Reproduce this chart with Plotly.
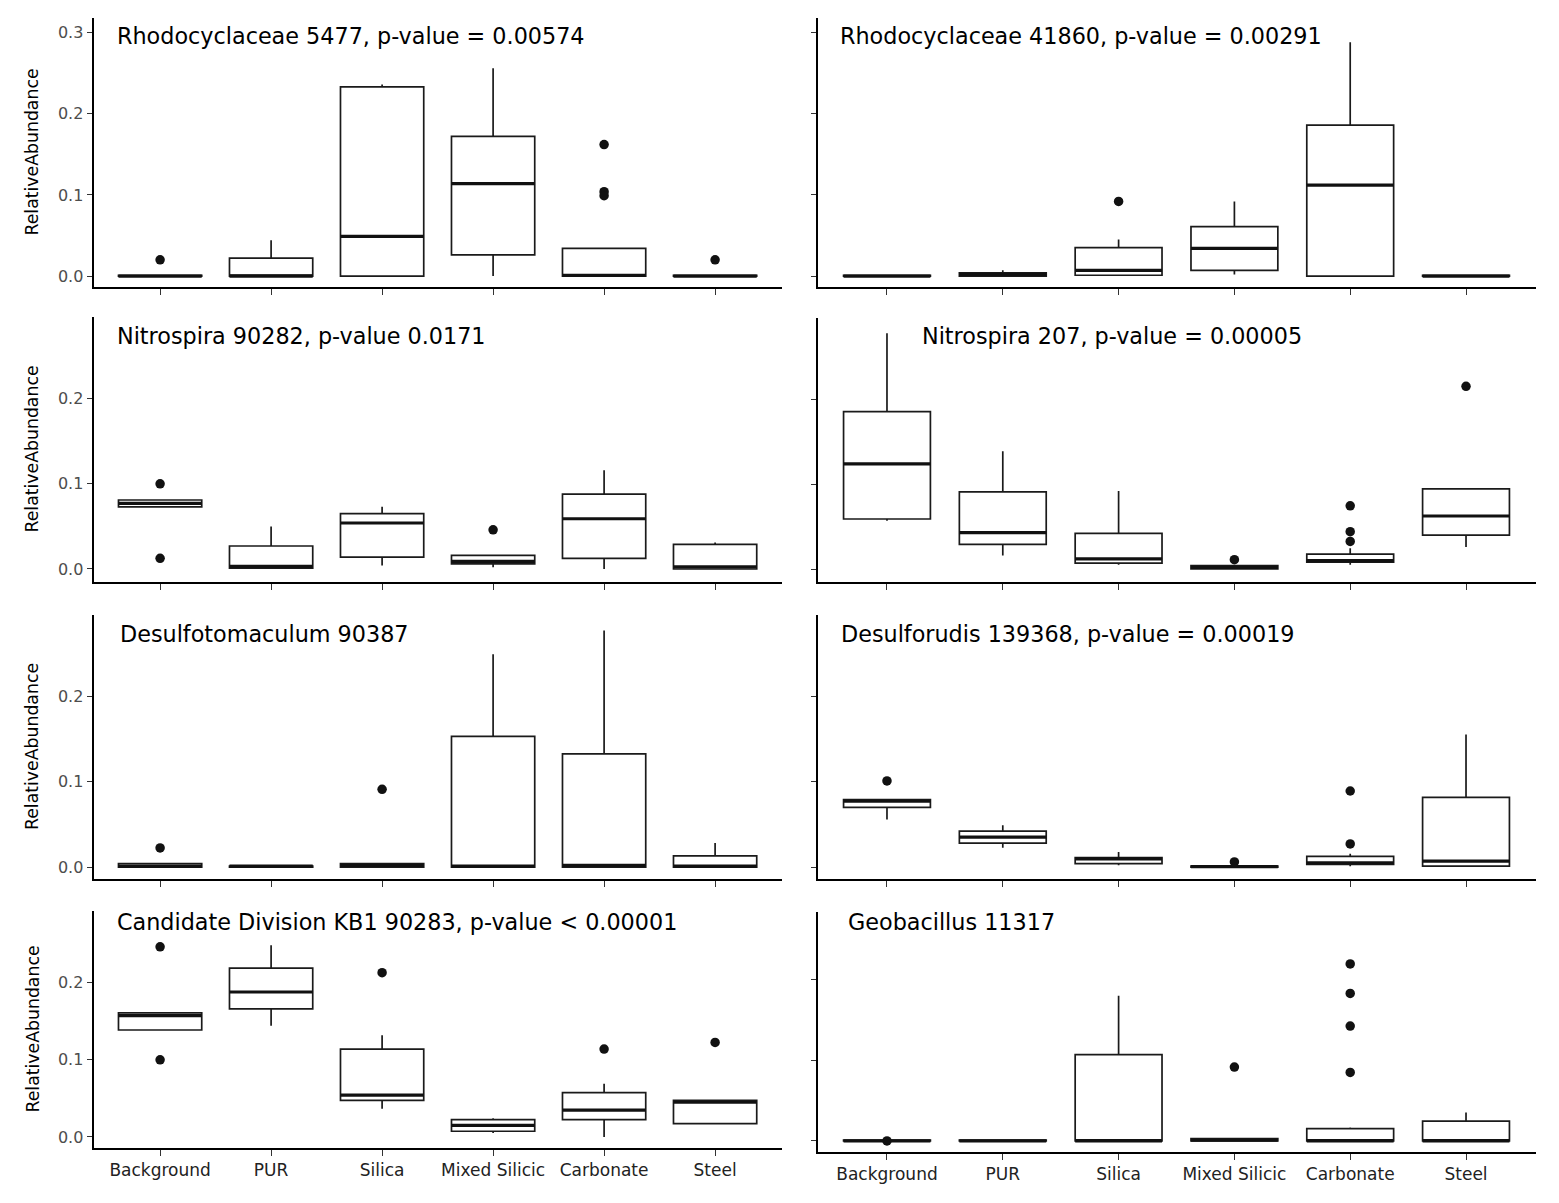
import plotly.graph_objects as go

categories = ["Background", "PUR", "Silica", "Mixed Silicic", "Carbonate", "Steel"]

# Panel A: Rhodocyclaceae 5477
a_lower = [0, 0, 0, 0, 0, 0]
a_q1 = [0, 0, 0, 0.026, 0, 0]
a_median = [0, 0, 0.049, 0.114, 0.001, 0]
a_q3 = [0.001, 0.022, 0.233, 0.172, 0.034, 0.001]
a_upper = [0.001, 0.044, 0.236, 0.256, 0.034, 0.001]
a_out_x = ["Background", "Carbonate", "Carbonate", "Carbonate", "Steel"]
a_out_y = [0.020, 0.162, 0.104, 0.099, 0.020]

# Panel B: Rhodocyclaceae 41860
b_lower = [0, 0, 0.001, 0.002, 0, 0]
b_q1 = [0, 0, 0.001, 0.007, 0, 0]
b_median = [0, 0.002, 0.007, 0.034, 0.112, 0]
b_q3 = [0.001, 0.004, 0.035, 0.061, 0.186, 0.001]
b_upper = [0.001, 0.007, 0.045, 0.092, 0.288, 0.001]
b_out_x = ["Silica"]
b_out_y = [0.092]

# Panel C: Nitrospira 90282
c_lower = [0.073, 0, 0.004, 0.002, 0, 0]
c_q1 = [0.073, 0.001, 0.014, 0.006, 0.0125, 0]
c_median = [0.077, 0.003, 0.054, 0.009, 0.059, 0.0025]
c_q3 = [0.081, 0.027, 0.065, 0.016, 0.088, 0.029]
c_upper = [0.081, 0.050, 0.073, 0.017, 0.116, 0.031]
c_out_x = ["Background", "Background", "Mixed Silicic"]
c_out_y = [0.100, 0.0125, 0.046]

# Panel D: Nitrospira 207
d_lower = [0.057, 0.016, 0.005, 0, 0.005, 0.026]
d_q1 = [0.059, 0.029, 0.007, 0, 0.008, 0.040]
d_median = [0.124, 0.043, 0.012, 0.002, 0.010, 0.0625]
d_q3 = [0.1855, 0.091, 0.042, 0.004, 0.0175, 0.0945]
d_upper = [0.278, 0.139, 0.092, 0.004, 0.0245, 0.0945]
d_out_x = ["Mixed Silicic", "Carbonate", "Carbonate", "Carbonate", "Steel"]
d_out_y = [0.011, 0.0325, 0.044, 0.0745, 0.2155]

# Panel E: Desulfotomaculum 90387
e_lower = [0, 0, 0, 0, 0, 0]
e_q1 = [0, 0, 0, 0, 0, 0]
e_median = [0.001, 0.001, 0.002, 0.001, 0.002, 0.001]
e_q3 = [0.004, 0.001, 0.004, 0.153, 0.1325, 0.013]
e_upper = [0.004, 0.001, 0.004, 0.249, 0.277, 0.028]
e_out_x = ["Background", "Silica"]
e_out_y = [0.0224, 0.091]

# Panel F: Desulforudis 139368
f_lower = [0.0557, 0.0227, 0.002, 0, 0.001, 0.001]
f_q1 = [0.0698, 0.028, 0.004, 0, 0.003, 0.001]
f_median = [0.077, 0.035, 0.0095, 0.0005, 0.005, 0.007]
f_q3 = [0.079, 0.042, 0.011, 0.0012, 0.0125, 0.0815]
f_upper = [0.079, 0.049, 0.0176, 0.0012, 0.0157, 0.155]
f_out_x = ["Background", "Mixed Silicic", "Carbonate", "Carbonate"]
f_out_y = [0.1008, 0.006, 0.027, 0.089]

# Panel G: Candidate Division KB1 90283
g_lower = [0.1387, 0.1443, 0.0365, 0.005, 0, 0.0174]
g_q1 = [0.1387, 0.166, 0.0474, 0.0074, 0.0226, 0.0174]
g_median = [0.1574, 0.188, 0.0543, 0.015, 0.0348, 0.045]
g_q3 = [0.161, 0.219, 0.114, 0.0226, 0.0574, 0.0474]
g_upper = [0.161, 0.2487, 0.132, 0.0243, 0.069, 0.0474]
g_out_x = ["Background", "Background", "Silica", "Carbonate", "Steel"]
g_out_y = [0.2465, 0.100, 0.213, 0.114, 0.1226]

# Panel H: Geobacillus 11317
h_lower = [0, 0, 0, 0, 0, 0]
h_q1 = [0, 0, 0, 0, 0, 0]
h_median = [0, 0, 0, 0.001, 0, 0]
h_q3 = [0.001, 0.001, 0.107, 0.003, 0.0154, 0.0246]
h_upper = [0.001, 0.001, 0.180, 0.003, 0.0167, 0.0354]
h_out_x = ["Background", "Mixed Silicic", "Carbonate", "Carbonate", "Carbonate", "Carbonate"]
h_out_y = [0.0, 0.0917, 0.085, 0.1425, 0.183, 0.2196]

titles = [
    "Rhodocyclaceae 5477, p-value = 0.00574",
    "Rhodocyclaceae 41860, p-value = 0.00291",
    "Nitrospira 90282, p-value 0.0171",
    "Nitrospira 207, p-value = 0.00005",
    "Desulfotomaculum 90387",
    "Desulforudis 139368, p-value = 0.00019",
    "Candidate Division KB1 90283, p-value < 0.00001",
    "Geobacillus 11317",
]

OFF = 8  # page body margin of the html page
W, H = 1559 - 2 * OFF, 1203 - 2 * OFF
FONT = "DejaVu Sans"
LINE = "#1a1a1a"

panels = [
    (a_lower, a_q1, a_median, a_q3, a_upper, a_out_x, a_out_y),
    (b_lower, b_q1, b_median, b_q3, b_upper, b_out_x, b_out_y),
    (c_lower, c_q1, c_median, c_q3, c_upper, c_out_x, c_out_y),
    (d_lower, d_q1, d_median, d_q3, d_upper, d_out_x, d_out_y),
    (e_lower, e_q1, e_median, e_q3, e_upper, e_out_x, e_out_y),
    (f_lower, f_q1, f_median, f_q3, f_upper, f_out_x, f_out_y),
    (g_lower, g_q1, g_median, g_q3, g_upper, g_out_x, g_out_y),
    (h_lower, h_q1, h_median, h_q3, h_upper, h_out_x, h_out_y),
]

# layout geometry (window pixels)
col_x = [(93.5, 781.7), (817.5, 1535.5)]
geo = [
    (18, 287, [-0.0135, 0.318]), (18, 287, [-0.0135, 0.318]),
    (317, 582, [-0.0153, 0.296]), (318, 582, [-0.0153, 0.296]),
    (615, 879, [-0.014, 0.295]), (615, 879, [-0.014, 0.295]),
    (911, 1148, [-0.0143, 0.293]), (912, 1152, [-0.0137, 0.284]),
]
title_pos = [(115, 36), (838, 36), (115, 336), (920, 336),
             (118, 634), (839, 634), (115, 922), (846, 922)]


def px(v):
    return (v - OFF) / W


def py(v):
    return 1 - (v - OFF) / H


fig = go.Figure()
layout = dict(
    width=W, height=H, margin=dict(l=0, r=0, t=0, b=0),
    paper_bgcolor="white", plot_bgcolor="white", showlegend=False,
    font=dict(family=FONT, color="black"),
)
annotations = []
pos = list(range(len(categories)))
half = 0.375

for k, (lo, q1, med, q3, hi, ox, oy) in enumerate(panels):
    row, col = divmod(k, 2)
    n = k + 1
    xa = "x" if n == 1 else f"x{n}"
    ya = "y" if n == 1 else f"y{n}"
    top, bot, yr = geo[k]
    x0, x1 = col_x[col]

    fig.add_trace(go.Box(
        x=pos, q1=q1, median=med, q3=q3, lowerfence=lo, upperfence=hi,
        width=0.75, whiskerwidth=0, boxpoints=False,
        fillcolor="white", line=dict(color=LINE, width=1.7),
        xaxis=xa, yaxis=ya, hoverinfo="skip",
    ))
    mx, my = [], []
    for i, m in zip(pos, med):
        mx += [i - half, i + half, None]
        my += [m, m, None]
    fig.add_trace(go.Scatter(
        x=mx, y=my, mode="lines", line=dict(color="#111111", width=3.2),
        xaxis=xa, yaxis=ya, hoverinfo="skip",
    ))
    fig.add_trace(go.Scatter(
        x=[categories.index(c) for c in ox], y=oy, mode="markers",
        marker=dict(color="#111111", size=9.5), xaxis=xa, yaxis=ya, hoverinfo="skip",
    ))

    axkey_x = "xaxis" if n == 1 else f"xaxis{n}"
    axkey_y = "yaxis" if n == 1 else f"yaxis{n}"
    layout[axkey_x] = dict(
        domain=[px(x0), px(x1)], anchor=ya, range=[-0.6, 5.6],
        tickvals=pos, ticktext=categories if row == 3 else [""] * 6,
        showticklabels=(row == 3),
        showgrid=False, zeroline=False, showline=True, linecolor="black", linewidth=1.8,
        ticks="outside", ticklen=6, tickwidth=1.4, tickcolor="#333333",
        tickfont=dict(family=FONT, size=17, color="#222222"),
        fixedrange=True,
    )
    ticks = [0, 0.1, 0.2, 0.3] if row == 0 else [0, 0.1, 0.2]
    layout[axkey_y] = dict(
        domain=[py(bot), py(top)], anchor=xa, range=yr,
        tickvals=ticks, ticktext=[f"{t:.1f}" for t in ticks],
        showticklabels=(col == 0),
        showgrid=False, zeroline=False, showline=True, linecolor="black", linewidth=1.8,
        ticks="outside", ticklen=5, tickwidth=1.4, tickcolor="#333333",
        tickfont=dict(family=FONT, size=16, color="#4d4d4d"),
        fixedrange=True,
    )
    tx, ty = title_pos[k]
    annotations.append(dict(
        text=titles[k], xref="paper", yref="paper", x=px(tx), y=py(ty),
        xanchor="left", yanchor="middle", showarrow=False,
        font=dict(family=FONT, size=22.3, color="black"),
    ))
    if col == 0:
        annotations.append(dict(
            text="RelativeAbundance", xref="paper", yref="paper",
            x=px(32), y=py((top + bot) / 2), xanchor="center", yanchor="middle",
            textangle=-90, showarrow=False,
            font=dict(family=FONT, size=17.3, color="black"),
        ))

layout["annotations"] = annotations
fig.update_layout(**layout)
fig.write_html("out.html")
